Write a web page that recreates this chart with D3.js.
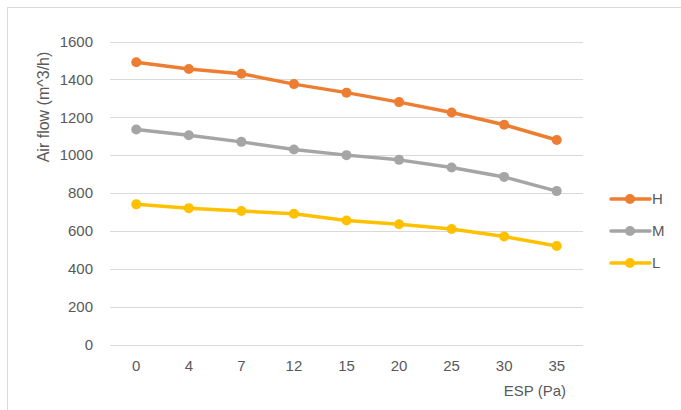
<!DOCTYPE html>
<html>
<head>
<meta charset="utf-8">
<script src="https://cdn.jsdelivr.net/npm/d3@7"></script>
<style>
  html, body { margin: 0; padding: 0; background: #fff; }
  svg { display: block; }
  text { font-family: "Liberation Sans", Arial, sans-serif; fill: #595959; }
</style>
</head>
<body>
<svg id="chart" width="681" height="410"></svg>
<script>
const categories = ["0", "4", "7", "12", "15", "20", "25", "30", "35"];
const seriesNames = ["H", "M", "L"];
const valuesH = [1490, 1455, 1430, 1375, 1330, 1280, 1225, 1160, 1080];
const valuesM = [1135, 1105, 1070, 1030, 1000, 975, 935, 885, 810];
const valuesL = [740, 720, 705, 690, 655, 635, 610, 570, 520];
const yTicks = [0, 200, 400, 600, 800, 1000, 1200, 1400, 1600];
const colors = ["#ED7D31", "#A5A5A5", "#FFC000"];
const xTitle = "ESP (Pa)";
const yTitle = "Air flow (m^3/h)";

const series = [valuesH, valuesM, valuesL].map((v, i) => ({ name: seriesNames[i], color: colors[i], values: v }));

const svg = d3.select("#chart");
const W = 681, H = 410;
const FONT = '"Liberation Sans", Arial, sans-serif';

// chart border
svg.append("rect")
  .attr("x", 7.5).attr("y", 7.5)
  .attr("width", W + 10).attr("height", H + 10)
  .attr("fill", "#fff").attr("stroke", "#d9d9d9").attr("stroke-width", 1);

const plot = { left: 110, right: 583, top: 41.5, bottom: 344.5 };

const x = d3.scaleBand().domain(categories).range([plot.left, plot.right]);
const y = d3.scaleLinear().domain([0, 1600]).range([plot.bottom, plot.top]);

// gridlines
svg.append("g").selectAll("line").data(yTicks).join("line")
  .attr("x1", plot.left).attr("x2", plot.right)
  .attr("y1", d => Math.round(y(d)) + 0.5).attr("y2", d => Math.round(y(d)) + 0.5)
  .attr("stroke", "#d9d9d9").attr("stroke-width", 1);

// y axis labels
const yAxis = d3.axisLeft(y).tickValues(yTicks).tickFormat(d3.format("d")).tickSize(0).tickPadding(0);
const gy = svg.append("g").attr("transform", `translate(${plot.left - 17},0)`).call(yAxis)
  .attr("font-size", null).attr("font-family", null);
gy.select(".domain").remove();
gy.selectAll("text").attr("font-size", "15px").attr("fill", "#595959").style("font-family", FONT);

// x axis labels
const xAxis = d3.axisBottom(x).tickSize(0).tickPadding(0);
const gx = svg.append("g").attr("transform", `translate(0,${plot.bottom + 16})`).call(xAxis)
  .attr("font-size", null).attr("font-family", null);
gx.select(".domain").remove();
gx.selectAll("text").attr("font-size", "15px").attr("fill", "#595959").style("font-family", FONT);

// axis titles
svg.append("text")
  .attr("x", 566).attr("y", 396)
  .attr("text-anchor", "end")
  .attr("font-size", "15px")
  .text(xTitle);

svg.append("text")
  .attr("transform", `translate(49,107) rotate(-90)`)
  .attr("text-anchor", "middle")
  .attr("font-size", "16px")
  .text(yTitle);

// lines
const line = d3.line()
  .x((d, i) => x(categories[i]) + x.bandwidth() / 2)
  .y(d => y(d));

const gs = svg.append("g").selectAll("g").data(series).join("g");
gs.append("path")
  .attr("d", d => line(d.values))
  .attr("fill", "none")
  .attr("stroke", d => d.color)
  .attr("stroke-width", 3.5)
  .attr("stroke-linejoin", "round")
  .attr("stroke-linecap", "round");
gs.each(function(s) {
  d3.select(this).selectAll("circle").data(s.values).join("circle")
    .attr("cx", (d, i) => x(categories[i]) + x.bandwidth() / 2)
    .attr("cy", d => y(d))
    .attr("r", 5)
    .attr("fill", s.color);
});

// legend
const legend = svg.append("g");
const lg = legend.selectAll("g").data(series).join("g")
  .attr("transform", (d, i) => `translate(0,${199 + i * 32})`);
lg.append("line")
  .attr("x1", 611).attr("x2", 650).attr("y1", 0).attr("y2", 0)
  .attr("stroke", d => d.color).attr("stroke-width", 3.5).attr("stroke-linecap", "round");
lg.append("circle").attr("cx", 630).attr("cy", 0).attr("r", 5).attr("fill", d => d.color);
lg.append("text")
  .attr("x", 652).attr("y", 0).attr("dy", "0.35em")
  .attr("font-size", "15px")
  .text(d => d.name);
</script>
</body>
</html>
